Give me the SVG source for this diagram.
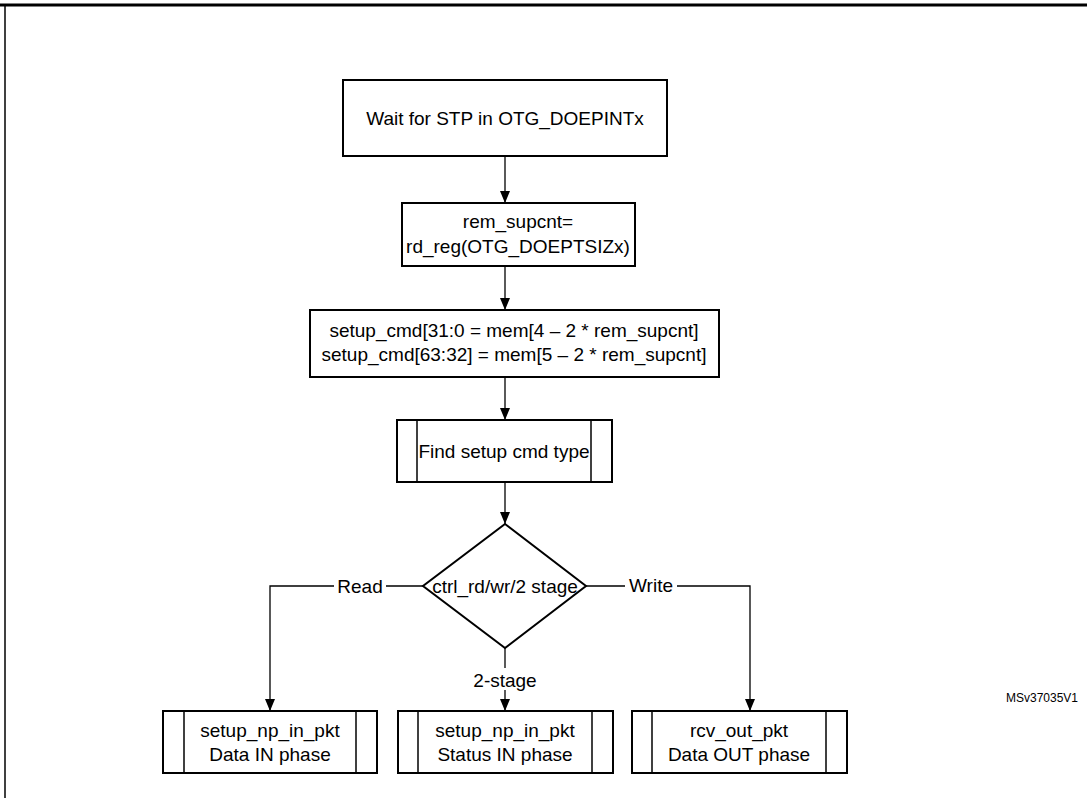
<svg xmlns="http://www.w3.org/2000/svg" width="1087" height="798" viewBox="0 0 1087 798">
<defs>
<marker id="ah" markerWidth="12" markerHeight="10" refX="12" refY="5" orient="auto" markerUnits="userSpaceOnUse" viewBox="0 0 12 10"><path d="M0,0 L12,5 L0,10 Z" fill="#000"/></marker>
</defs>
<style>
.b{fill:#fff;stroke:#000;stroke-width:2}
.l{fill:none;stroke:#000;stroke-width:1.5}
.t{font-family:"Liberation Sans",Arial,sans-serif;font-size:19px;text-anchor:middle;fill:#000}
.c{stroke:#000;stroke-width:1.3;fill:none}
</style>
<rect width="1087" height="798" fill="#fff"/>
<line x1="0" y1="5" x2="1087" y2="5" stroke="#000" stroke-width="3"/>
<line x1="5" y1="5" x2="5" y2="798" stroke="#000" stroke-width="1.5"/>
<g id="connectors">
<line class="c" x1="505" y1="156" x2="505" y2="203" marker-end="url(#ah)"/>
<line class="c" x1="505" y1="266" x2="505" y2="310" marker-end="url(#ah)"/>
<line class="c" x1="505" y1="377" x2="505" y2="420" marker-end="url(#ah)"/>
<line class="c" x1="505" y1="482" x2="505" y2="524" marker-end="url(#ah)"/>
<polyline class="c" points="423,586 270,586 270,711" marker-end="url(#ah)"/>
<polyline class="c" points="586,586 750,586 750,711" marker-end="url(#ah)"/>
<line class="c" x1="505" y1="648" x2="505" y2="711" marker-end="url(#ah)"/>
<rect x="334" y="574" width="52" height="22" fill="#fff"/>
<text class="t" x="360" y="593">Read</text>
<rect x="625" y="574" width="52" height="22" fill="#fff"/>
<text class="t" x="651" y="592">Write</text>
<rect x="470" y="668" width="70" height="22" fill="#fff"/>
<text class="t" x="505" y="687">2-stage</text>
</g>
<g id="n1"><rect class="b" x="343" y="80" width="324" height="76"/><text class="t" x="505" y="125">Wait for STP in OTG_DOEPINTx</text></g>
<g id="n2"><rect class="b" x="402" y="203" width="233" height="63"/><text class="t" x="518" y="228">rem_supcnt=</text><text class="t" x="518" y="253">rd_reg(OTG_DOEPTSIZx)</text></g>
<g id="n3"><rect class="b" x="310" y="310" width="409" height="67"/><text class="t" x="514" y="337">setup_cmd[31:0 = mem[4 – 2 * rem_supcnt]</text><text class="t" x="514" y="361">setup_cmd[63:32] = mem[5 – 2 * rem_supcnt]</text></g>
<g id="n4"><rect class="b" x="397" y="420" width="215" height="62"/><line class="l" x1="417" y1="420" x2="417" y2="482"/><line class="l" x1="591" y1="420" x2="591" y2="482"/><text class="t" x="504" y="458">Find setup cmd type</text></g>
<g id="n5"><polygon class="b" points="505,524 586,586 505,648 423,586"/><text class="t" x="505" y="593">ctrl_rd/wr/2 stage</text></g>
<g id="n6"><rect class="b" x="163" y="711" width="214" height="62"/><line class="l" x1="184" y1="711" x2="184" y2="773"/><line class="l" x1="356" y1="711" x2="356" y2="773"/><text class="t" x="270" y="737">setup_np_in_pkt</text><text class="t" x="270" y="761">Data IN phase</text></g>
<g id="n7"><rect class="b" x="398" y="711" width="215" height="62"/><line class="l" x1="418" y1="711" x2="418" y2="773"/><line class="l" x1="592" y1="711" x2="592" y2="773"/><text class="t" x="505" y="737">setup_np_in_pkt</text><text class="t" x="505" y="761">Status IN phase</text></g>
<g id="n8"><rect class="b" x="632" y="711" width="215" height="62"/><line class="l" x1="652" y1="711" x2="652" y2="773"/><line class="l" x1="826" y1="711" x2="826" y2="773"/><text class="t" x="739" y="737">rcv_out_pkt</text><text class="t" x="739" y="761">Data OUT phase</text></g>
<text x="1078" y="702" style="font-family:'Liberation Sans',Arial,sans-serif;font-size:12px;text-anchor:end">MSv37035V1</text>
</svg>
